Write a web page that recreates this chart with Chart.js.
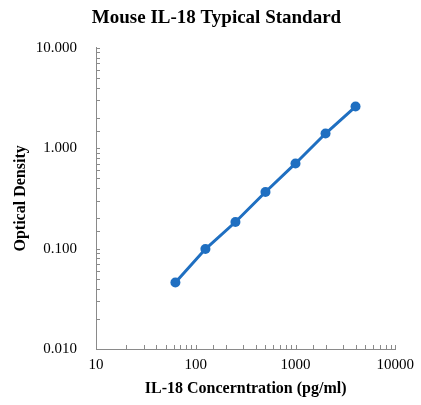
<!DOCTYPE html>
<html>
<head>
<meta charset="utf-8">
<script src="https://cdn.jsdelivr.net/npm/chart.js@4"></script>
<style>
  body { margin: 0; background: #fff; }
</style>
</head>
<body>
<canvas id="chart" width="421" height="405"></canvas>
<script>
// IL-18 standard curve
const conc = [62.5, 125, 250, 500, 1000, 2000, 4000];
const od = [0.046, 0.099, 0.184, 0.366, 0.705, 1.40, 2.60];

const xLimits = [10, 10000];
const yLimits = [0.01, 10];

const blue = "#1f6fc1";
const axisGray = "#8a8a8a";
const serif = "'Liberation Serif', 'Times New Roman', serif";

let points = [];
for (let i = 0; i < conc.length; i++) {
  points.push({ x: conc[i], y: od[i] });
}

function isDecade(v) {
  let l = Math.log10(v);
  return Math.abs(l - Math.round(l)) < 1e-6;
}

// small tick marks drawn inside the plot, like the original
const innerTicks = {
  id: 'innerTicks',
  afterDraw(chart) {
    const ctx = chart.ctx;
    const area = chart.chartArea;
    ctx.save();
    ctx.strokeStyle = axisGray;
    ctx.lineWidth = 1;
    const xs = chart.scales.x;
    xs.ticks.forEach(t => {
      let px = Math.round(xs.getPixelForValue(t.value)) + 0.5;
      ctx.beginPath();
      ctx.moveTo(px, area.bottom);
      ctx.lineTo(px, area.bottom - 4);
      ctx.stroke();
    });
    const ys = chart.scales.y;
    ys.ticks.forEach(t => {
      let py = Math.round(ys.getPixelForValue(t.value)) + 0.5;
      ctx.beginPath();
      ctx.moveTo(area.left, py);
      ctx.lineTo(area.left + 4, py);
      ctx.stroke();
    });
    ctx.restore();
  }
};

new Chart(document.getElementById("chart").getContext('2d'), {
  type: 'line',
  data: {
    datasets: [{
      data: points,
      borderColor: blue,
      backgroundColor: blue,
      borderWidth: 3,
      pointRadius: 5,
      pointHoverRadius: 5,
      pointBorderWidth: 0,
      tension: 0
    }]
  },
  plugins: [innerTicks],
  options: {
    responsive: false,
    animation: false,
    // left padding pushes the chart title right; y title is pulled back with negative padding
    layout: { padding: { left: 35, right: 23, top: 0, bottom: 0 } },
    plugins: {
      legend: { display: false },
      tooltip: { enabled: false },
      title: {
        display: true,
        text: 'Mouse IL-18 Typical Standard',
        color: '#000',
        font: { family: serif, size: 19, weight: 'bold' },
        padding: { top: 7, bottom: 18 }
      }
    },
    scales: {
      x: {
        type: 'logarithmic',
        min: xLimits[0],
        max: xLimits[1],
        grid: { display: false, drawTicks: false },
        border: { display: true, color: axisGray, width: 1 },
        ticks: {
          autoSkip: false,
          maxRotation: 0,
          padding: 7,
          color: '#000',
          font: { family: serif, size: 15 },
          callback: v => isDecade(v) ? String(Math.round(v)) : ''
        },
        title: {
          display: true,
          text: 'IL-18 Concerntration (pg/ml)',
          color: '#000',
          font: { family: serif, size: 16, weight: 'bold' },
          padding: { top: 4, bottom: 7 }
        },
        afterFit(scale) { scale.height = 56; }
      },
      y: {
        type: 'logarithmic',
        min: yLimits[0],
        max: yLimits[1],
        grid: { display: false, drawTicks: false },
        border: { display: true, color: axisGray, width: 1 },
        ticks: {
          autoSkip: false,
          padding: 19,
          color: '#000',
          font: { family: serif, size: 15 },
          callback: v => isDecade(v) ? v.toFixed(3) : ''
        },
        title: {
          display: true,
          text: 'Optical Density',
          color: '#000',
          font: { family: serif, size: 16, weight: 'bold' },
          padding: { top: -23.5, bottom: 4 }
        },
        afterFit(scale) { scale.width = 61; }
      }
    }
  }
});
</script>
</body>
</html>
